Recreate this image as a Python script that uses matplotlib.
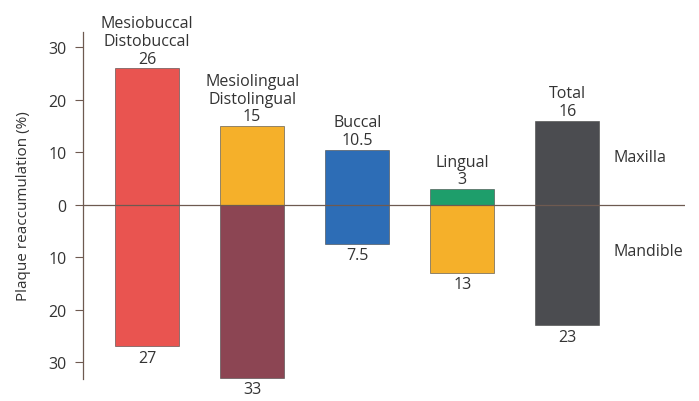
import matplotlib
matplotlib.use("Agg")
import matplotlib.pyplot as plt
import numpy as np

# category names shown above the bars
categories = ["Mesiobuccal\nDistobuccal", "Mesiolingual\nDistolingual", "Buccal", "Lingual", "Total"]
maxilla = [26, 15, 10.5, 3, 16]
mandible = [27, 33, 7.5, 13, 23]
maxilla_labels = ["26", "15", "10.5", "3", "16"]
mandible_labels = ["27", "33", "7.5", "13", "23"]

upper_colors = ["#E95450", "#F5B02A", "#2D6DB6", "#1E9E6B", "#4B4C50"]
lower_colors = ["#E95450", "#8C4553", "#2D6DB6", "#F5B02A", "#4B4C50"]

plt.rcParams["font.family"] = ["Open Sans", "DejaVu Sans"]

fig = plt.figure(figsize=(6.99, 4.02), dpi=100)
ax = fig.add_axes([83 / 699, 1 - 380 / 402, (685 - 83) / 699, (380 - 33) / 402])

x = np.arange(len(categories))
width = 0.61
ax.bar(x, maxilla, width, color=upper_colors, edgecolor="#444444", linewidth=0.4, zorder=2)
ax.bar(x, [-v for v in mandible], width, color=lower_colors, edgecolor="#444444", linewidth=0.4, zorder=2)

ax.axhline(0, color="#6e5a50", linewidth=0.9, zorder=3)

txt = "#333333"
fs = 11.5
for i in range(len(categories)):
    ax.text(x[i], maxilla[i] + 0.3, maxilla_labels[i], ha="center", va="bottom", fontsize=fs, color=txt)
    ax.text(x[i], maxilla[i] + 3.7, categories[i], ha="center", va="bottom", fontsize=fs,
            color=txt, linespacing=1.15)
    ax.text(x[i], -mandible[i] - 0.6, mandible_labels[i], ha="center", va="top", fontsize=fs, color=txt)

ax.text(4.44, 9.1, "Maxilla", ha="left", va="center", fontsize=fs, color=txt)
ax.text(4.44, -8.8, "Mandible", ha="left", va="center", fontsize=fs, color=txt)

ax.set_xlim(-0.61, 5.12)
ax.set_ylim(-33.2, 32.9)
ticks = [30, 20, 10, 0, -10, -20, -30]
ax.set_yticks(ticks)
ax.set_yticklabels([str(abs(t)) for t in ticks], fontsize=11.5, color=txt)
ax.set_xticks([])
ax.tick_params(axis="y", direction="out", length=6, color="#6e5a50", width=0.8, pad=6)

for s in ["top", "right", "bottom"]:
    ax.spines[s].set_visible(False)
ax.spines["left"].set_color("#6e5a50")
ax.spines["left"].set_linewidth(0.9)

ax.set_ylabel("Plaque reaccumulation (%)", fontsize=11, color=txt, labelpad=12)

fig.savefig("out.png", dpi=100)
